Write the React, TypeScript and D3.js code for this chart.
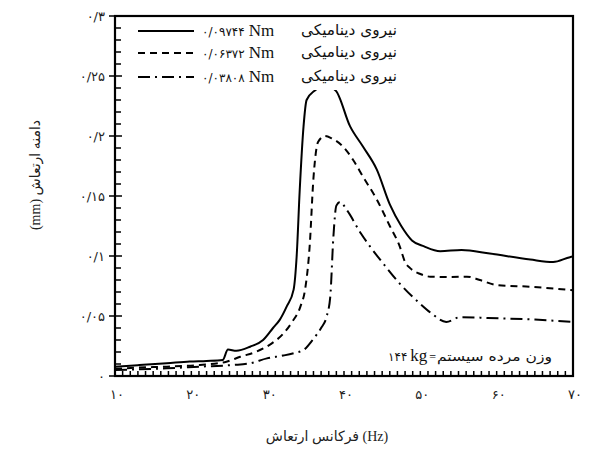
import React from "react";
import * as d3 from "d3";

// ---- data ----
const solidF = [10, 13, 16.8, 19.8, 22, 24.1, 24.8, 25.9, 27.7, 29.4, 30.7, 31.6, 32.5, 33.4, 33.8, 34.2, 34.7, 35.1, 36.2, 37.5, 38.9, 40.8, 42.5, 44.3, 46.0, 47.5, 48.9, 50.5, 52.6, 55.4, 59.1, 64.4, 67.4, 69.6, 70];
const solidA = [0.0078, 0.009, 0.0106, 0.012, 0.0125, 0.0133, 0.022, 0.021, 0.0244, 0.03, 0.04, 0.047, 0.058, 0.072, 0.1, 0.155, 0.208, 0.23, 0.238, 0.242, 0.238, 0.208, 0.191, 0.172, 0.143, 0.125, 0.113, 0.108, 0.104, 0.105, 0.102, 0.097, 0.095, 0.099, 0.0995];

const dashF = [10, 13, 16.8, 21.1, 24.6, 26.4, 28.6, 30.5, 32.0, 33.2, 34.3, 34.9, 35.5, 36.0, 36.6, 37.5, 38.4, 39.9, 41.2, 42.5, 44.3, 46.0, 47.3, 48.0, 48.7, 50, 51.3, 54, 56.1, 57.8, 60.0, 64.4, 70];
const dashA = [0.006, 0.007, 0.0078, 0.0092, 0.0119, 0.016, 0.0205, 0.027, 0.035, 0.045, 0.058, 0.072, 0.108, 0.165, 0.195, 0.2, 0.198, 0.191, 0.18, 0.166, 0.147, 0.125, 0.108, 0.095, 0.0897, 0.085, 0.0828, 0.0825, 0.0828, 0.08, 0.0758, 0.0744, 0.0715];

const dotF = [10, 13, 16.8, 21.1, 25.5, 27.7, 29.9, 32, 33.4, 34.7, 36.0, 37.0, 37.7, 38.2, 38.6, 39.0, 39.5, 40.4, 42.2, 43.4, 45.1, 47.3, 49.9, 51.5, 53.4, 55.2, 60.4, 65, 70];
const dotA = [0.005, 0.0055, 0.0064, 0.0078, 0.0092, 0.0106, 0.0147, 0.017, 0.019, 0.0217, 0.031, 0.04, 0.049, 0.066, 0.115, 0.142, 0.145, 0.138, 0.119, 0.108, 0.094, 0.077, 0.0606, 0.052, 0.045, 0.049, 0.048, 0.047, 0.045];

const legendValues = ["۰/۰۹۷۴۴", "۰/۰۶۳۷۲", "۰/۰۳۸۰۸"];
const legendWord = "نیروی دینامیکی";
const yTickValues = [0, 0.05, 0.1, 0.15, 0.2, 0.25, 0.3];
const yTickLabels = ["۰", "۰/۰۵", "۰/۱", "۰/۱۵", "۰/۲", "۰/۲۵", "۰/۳"];
const xTickValues = [10, 20, 30, 40, 50, 60, 70];
const xTickLabels = ["۱۰", "۲۰", "۳۰", "۴۰", "۵۰", "۶۰", "۷۰"];
const xTitle = "فرکانس ارتعاش (Hz)";
const yTitle = "(mm) دامنه ارتعاش";
const noteNum = "۱۴۴";
const noteText = "وزن مرده سیستم";

const W = 589, H = 462;
const L = 115, R = 573, T = 16, B = 376;
const FONT = "'Liberation Serif', 'DejaVu Sans', serif";
const PFONT = "'DejaVu Sans', sans-serif";

export default function App() {
  const x = d3.scaleLinear().domain([10, 70]).range([L, R]);
  const y = d3.scaleLinear().domain([0, 0.3]).range([B, T]);
  const line = d3.line<[number, number]>().x(d => x(d[0])).y(d => y(d[1])).curve(d3.curveMonotoneX);
  const series = [
    { f: solidF, a: solidA, dash: undefined as string | undefined },
    { f: dashF, a: dashA, dash: "7,5" },
    { f: dotF, a: dotA, dash: "12,5,2,5" },
  ];
  const yMinor = d3.range(0, 31).map(i => i * 0.01);
  const xMinor = d3.range(10, 71);
  const legendY = [31, 53, 77];

  // tick paths built as a single path string
  const yTickPath = yMinor.map(v => `M${L},${y(v)}h6`).join("") +
    yTickValues.map(v => `M${L - 6},${y(v)}h13`).join("");
  const xTickPath = xMinor.map(v => `M${x(v)},${B}v-5`).join("");

  return (
    <svg width={W} height={H} style={{ position: "absolute", left: 0, top: 0, background: "#fff" }}>
      <rect x={0} y={0} width={W} height={H} fill="#fff" />
      {/* curves */}
      {series.map((s, i) => (
        <path key={i} d={line(s.f.map((f, j) => [f, s.a[j]] as [number, number])) || ""}
          fill="none" stroke="#000" strokeWidth={2} strokeDasharray={s.dash} />
      ))}
      {/* frame */}
      <rect x={L} y={T} width={R - L} height={B - T} fill="none" stroke="#000" strokeWidth={2.2} />
      {/* ticks */}
      <path d={yTickPath + xTickPath} fill="none" stroke="#000" strokeWidth={1.5} />
      {/* tick labels */}
      {yTickValues.map((v, i) => (
        <text key={"yl" + i} x={105} y={y(v) + 5} textAnchor="end" fontFamily={PFONT} fontSize={13} fill="#222">{yTickLabels[i]}</text>
      ))}
      {xTickValues.map((v, i) => (
        <text key={"xl" + i} x={x(v) + 2} y={399} textAnchor="middle" fontFamily={PFONT} fontSize={13} fill="#222">{xTickLabels[i]}</text>
      ))}
      {/* titles */}
      <text x={327} y={441} textAnchor="middle" fontFamily={FONT} fontSize={14} fill="#222">{xTitle}</text>
      <text transform={`translate(40,175) rotate(-90)`} textAnchor="middle" fontFamily={FONT} fontSize={14} fill="#222">{yTitle}</text>
      {/* legend */}
      <rect x={298} y={64} width={104} height={26} fill="#fff" />
      {series.map((s, i) => (
        <g key={"lg" + i}>
          <line x1={138} x2={194} y1={legendY[i]} y2={legendY[i]} stroke="#000" strokeWidth={2} strokeDasharray={s.dash} />
          <text x={202} y={legendY[i] + 5} fontFamily={FONT} fontSize={17} fill="#111">
            <tspan fontFamily={PFONT} fontSize={12}>{legendValues[i]}</tspan>
            <tspan dx={4}>Nm</tspan>
          </text>
          <text x={301} y={legendY[i] + 4} fontFamily={PFONT} fontSize={15} fill="#111"
            textLength={96} lengthAdjust="spacingAndGlyphs">{legendWord}</text>
        </g>
      ))}
      {/* note */}
      <text x={388} y={361} fontFamily={FONT} fontSize={17} fill="#111">
        <tspan fontFamily={PFONT} fontSize={12}>{noteNum}</tspan>
        <tspan dx={3}>kg</tspan>
        <tspan dx={2} fontSize={12}>=</tspan>
      </text>
      <text x={437} y={361} fontFamily={PFONT} fontSize={13} fill="#111"
        textLength={115} lengthAdjust="spacingAndGlyphs">{noteText}</text>
    </svg>
  );
}
